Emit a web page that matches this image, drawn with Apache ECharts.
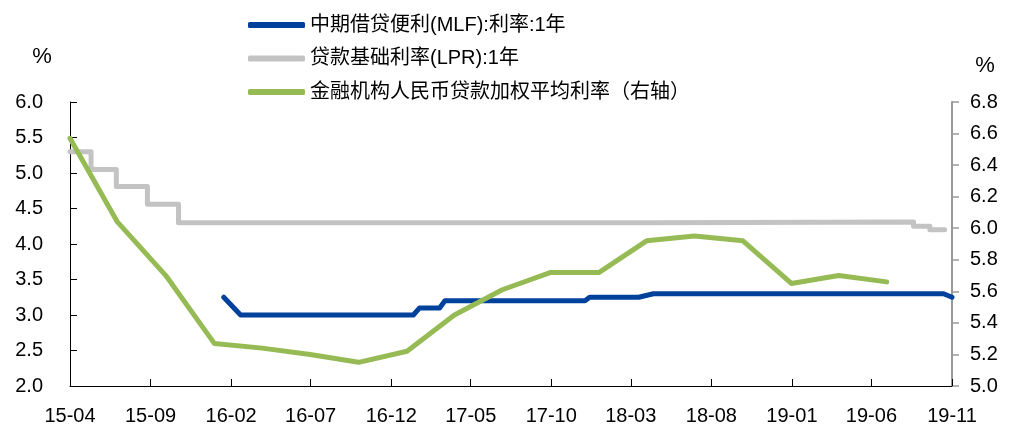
<!DOCTYPE html>
<html>
<head>
<meta charset="utf-8">
<script src="https://cdn.jsdelivr.net/npm/echarts@6/dist/echarts.min.js"></script>
<style>
    html, body { margin: 0; padding: 0; background: #fff; }
    #chart { width: 1016px; height: 427px; }
</style>
</head>
<body>
<div id="chart"></div>
<script>
// x轴刻度
var tickDates = ['2015-04-01', '2015-09-01', '2016-02-01', '2016-07-01', '2016-12-01', '2017-05-01',
    '2017-10-01', '2018-03-01', '2018-08-01', '2019-01-01', '2019-06-01', '2019-11-01'];
var tickLabels = ['15-04', '15-09', '16-02', '16-07', '16-12', '17-05',
    '17-10', '18-03', '18-08', '19-01', '19-06', '19-11'];

// 中期借贷便利(MLF):利率:1年
var mlfDates = ['2016-01-18', '2016-02-19', '2017-01-12', '2017-01-24', '2017-03-03', '2017-03-13',
    '2017-12-04', '2017-12-13', '2018-03-16', '2018-04-13', '2019-10-16', '2019-11-01'];
var mlfValues = [3.25, 3.00, 3.00, 3.10, 3.10, 3.20, 3.20, 3.25, 3.25, 3.30, 3.30, 3.25];

// 贷款基础利率(LPR):1年 (阶梯)
var lprDates = ['2015-04-01', '2015-05-11', '2015-06-28', '2015-08-26', '2015-10-24',
    '2018-04-04', '2019-08-20', '2019-09-20', '2019-10-18'];
var lprValues = [5.30, 5.05, 4.81, 4.56, 4.30, 4.31, 4.25, 4.20, 4.20];

// 金融机构人民币贷款加权平均利率（右轴）
var wavgDates = ['2015-04-01', '2015-06-30', '2015-09-30', '2015-12-31', '2016-03-31', '2016-06-30',
    '2016-09-30', '2016-12-31', '2017-03-31', '2017-06-30', '2017-09-30', '2017-12-31',
    '2018-03-31', '2018-06-30', '2018-09-30', '2018-12-31', '2019-03-31', '2019-06-30'];
var wavgValues = [6.57, 6.04, 5.70, 5.27, 5.24, 5.20, 5.15, 5.22, 5.45, 5.61, 5.72, 5.72,
    5.92, 5.95, 5.92, 5.65, 5.70, 5.66];

function toTs(s) {
    var p = s.split('-');
    return new Date(+p[0], +p[1] - 1, +p[2]).getTime();
}
function zip(dates, values) {
    return dates.map(function (d, i) { return [toTs(d), values[i]]; });
}

var tickTs = tickDates.map(toTs);
var FONT = '"Liberation Sans", "Noto Sans CJK SC", sans-serif';

var myChart = echarts.init(document.getElementById('chart'));
var option = {
    backgroundColor: '#fff',
    animation: false,
    textStyle: { fontFamily: FONT },
    legend: {
        orient: 'vertical',
        left: 248,
        top: 15,
        padding: 0,
        icon: 'roundRect',
        itemWidth: 57,
        itemHeight: 6,
        itemGap: 13.5,
        textStyle: { fontSize: 20, lineHeight: 20, color: '#000', fontFamily: FONT },
        data: ['中期借贷便利(MLF):利率:1年', '贷款基础利率(LPR):1年', '金融机构人民币贷款加权平均利率（右轴）']
    },
    grid: { left: 70, right: 64, top: 102, bottom: 41 },
    xAxis: {
        // 日期按时间戳放在数值轴上
        type: 'value',
        min: toTs('2015-04-01'),
        max: toTs('2019-11-01'),
        axisLine: { lineStyle: { color: '#000', width: 1 } },
        axisTick: { inside: true, length: 7, customValues: tickTs, lineStyle: { color: '#000' } },
        axisLabel: {
            customValues: tickTs,
            margin: 20,
            fontSize: 20,
            color: '#000',
            formatter: function (v) {
                var i = tickTs.indexOf(v);
                return i >= 0 ? tickLabels[i] : '';
            }
        },
        splitLine: { show: false }
    },
    yAxis: [{
        type: 'value',
        min: 2,
        max: 6,
        interval: 0.5,
        name: '%',
        nameLocation: 'end',
        nameGap: 45,
        nameTextStyle: { fontSize: 22, color: '#000', verticalAlign: 'middle', padding: [0, 56, 0, 0] },
        axisLine: { show: true, lineStyle: { color: '#000', width: 1 } },
        axisTick: { show: true, inside: true, length: 7, lineStyle: { color: '#000' } },
        axisLabel: {
            margin: 27, fontSize: 20, color: '#000',
            formatter: function (v) { return v.toFixed(1); }
        },
        splitLine: { show: false }
    }, {
        type: 'value',
        min: 5,
        max: 6.8,
        interval: 0.2,
        name: '%',
        nameLocation: 'end',
        nameGap: 36,
        nameTextStyle: { fontSize: 22, color: '#000', verticalAlign: 'middle', padding: [0, 0, 0, 66] },
        axisLine: { show: true, lineStyle: { color: '#999', width: 2 } },
        axisTick: { show: true, length: 7, lineStyle: { color: '#999', width: 1.5 } },
        axisLabel: {
            margin: 18, fontSize: 20, color: '#000',
            formatter: function (v) { return v.toFixed(1); }
        },
        splitLine: { show: false }
    }],
    series: [{
        name: '中期借贷便利(MLF):利率:1年',
        type: 'line',
        yAxisIndex: 0,
        symbol: 'none',
        data: zip(mlfDates, mlfValues),
        color: '#00419b',
        lineStyle: { width: 5, color: '#00419b', cap: 'round', join: 'round' },
        z: 3
    }, {
        name: '贷款基础利率(LPR):1年',
        type: 'line',
        yAxisIndex: 0,
        symbol: 'none',
        step: 'end',
        data: zip(lprDates, lprValues),
        color: '#c3c3c3',
        lineStyle: { width: 5, color: '#c3c3c3', cap: 'round', join: 'round' },
        z: 2
    }, {
        name: '金融机构人民币贷款加权平均利率（右轴）',
        type: 'line',
        yAxisIndex: 1,
        symbol: 'none',
        data: zip(wavgDates, wavgValues),
        color: '#96bb55',
        lineStyle: { width: 5, color: '#96bb55', cap: 'round', join: 'round' },
        z: 4
    }]
};
myChart.setOption(option);
</script>
</body>
</html>
